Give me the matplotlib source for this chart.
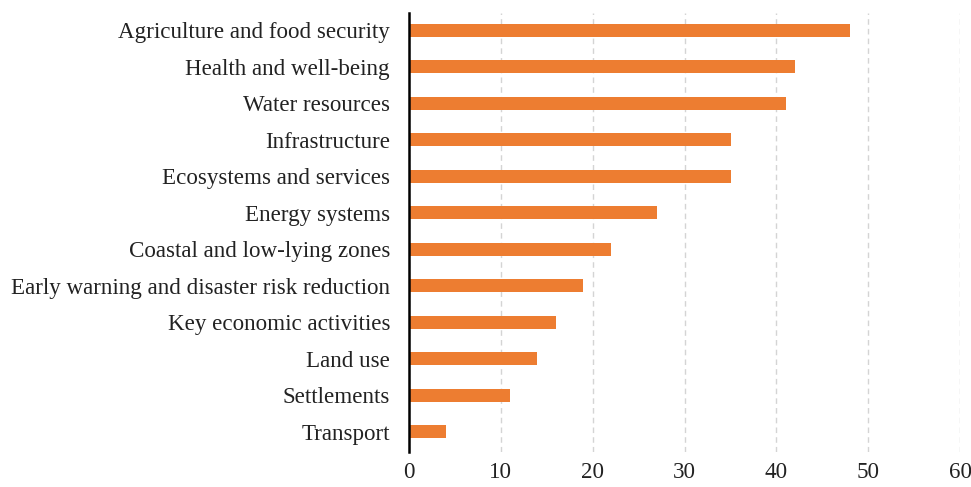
import matplotlib
matplotlib.use('Agg')
import matplotlib.pyplot as plt

sectors = ['Agriculture and food security', 'Health and well-being', 'Water resources',
           'Infrastructure', 'Ecosystems and services', 'Energy systems',
           'Coastal and low-lying zones', 'Early warning and disaster risk reduction',
           'Key economic activities', 'Land use', 'Settlements', 'Transport']
counts = [48, 42, 41, 35, 35, 27, 22, 19, 16, 14, 11, 4]

plt.rcParams['font.family'] = ['Liberation Serif', 'DejaVu Serif']

fig = plt.figure(figsize=(9.71, 4.87), dpi=100)
ax = fig.add_axes([0.421, 0.072, 0.568, 0.901])

pos = list(range(len(sectors)))[::-1]
ax.barh(pos, counts, height=0.36, color='#ED7D31', zorder=3)

ax.set_xlim(0, 60)
ax.set_ylim(-0.55, 11.47)
ax.set_xticks(range(0, 61, 10))
ax.set_yticks(pos)
ax.set_yticklabels(sectors)
ax.tick_params(axis='both', length=0, labelsize=16.6, colors='#222222')
ax.tick_params(axis='x', pad=7)
ax.tick_params(axis='y', pad=13.5)
ax.xaxis.grid(True, linestyle=(0, (4, 3)), color='#d4d4d4', linewidth=1, zorder=0)

for s in ['top', 'right', 'bottom']:
    ax.spines[s].set_visible(False)
ax.spines['left'].set_linewidth(1.8)
ax.spines['left'].set_color('black')
ax.spines['left'].set_zorder(4)

fig.savefig('out.png', dpi=100)
